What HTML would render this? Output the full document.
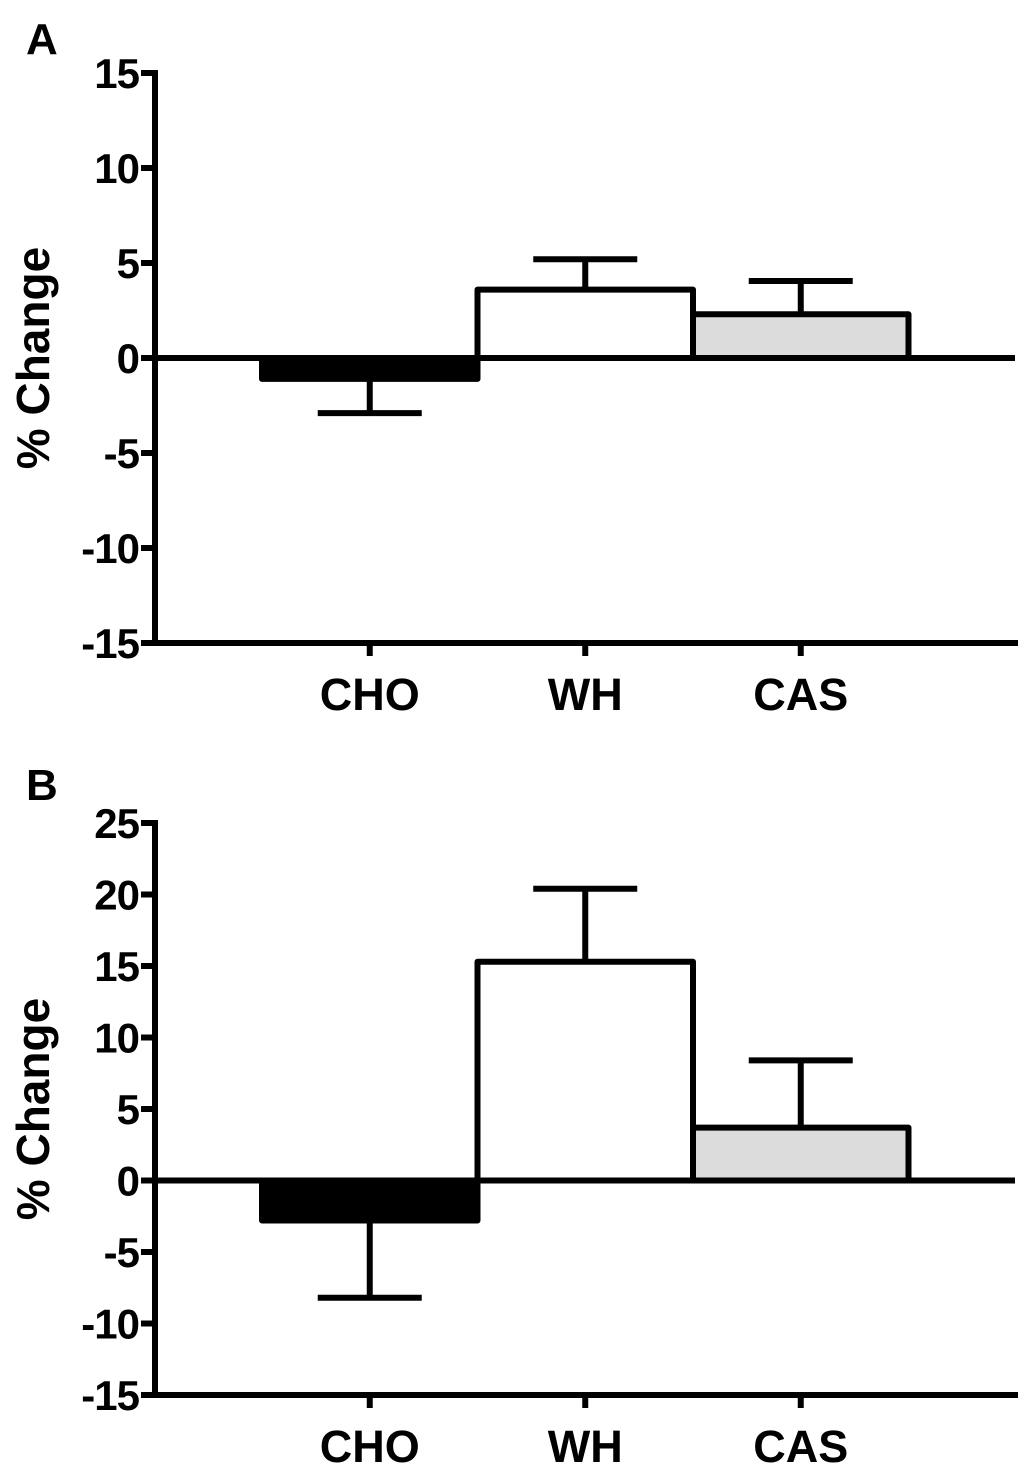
<!DOCTYPE html>
<html><head><meta charset="utf-8"><style>
html,body{margin:0;padding:0;background:#fff;}
svg text{font-family:"Liberation Sans",Arial,sans-serif;font-weight:bold;fill:#000;}
</style></head><body>
<svg id="fig" width="1024" height="1472" viewBox="0 0 1024 1472" xmlns="http://www.w3.org/2000/svg"></svg>
<script>
const categories = ["CHO","WH","CAS"];
const fills = ["#000000","#ffffff","#dcdcdc"];
const valuesA = [-1.1, 3.6, 2.3];
const errorsA = [-2.9, 5.2, 4.05];
const ticksA = [15,10,5,0,-5,-10,-15];
const valuesB = [-2.8, 15.3, 3.7];
const errorsB = [-8.2, 20.4, 8.4];
const ticksB = [25,20,15,10,5,0,-5,-10,-15];

const NS="http://www.w3.org/2000/svg";
const svg=document.getElementById('fig');
function mk(tag,attrs,parent){const e=document.createElementNS(NS,tag);for(const k in attrs)e.setAttribute(k,attrs[k]);(parent||svg).appendChild(e);return e;}

function panel(cfg){
  const g=mk('g',{});
  
  
  const ax=155, xEnd=1018;
  const y=v=>cfg.y0+(v-cfg.vmin)*(cfg.y1-cfg.y0)/(cfg.vmax-cfg.vmin);
  const bandL=262, bandW=215.5;
  const xc=i=>bandL+bandW*(i+0.5);
  const L=mk('text',{x:26,y:cfg.letterY,'font-size':44},g);L.textContent=cfg.letter;
  
  
  const t=mk('text',{x:0,y:0,'font-size':46,'text-anchor':'middle',transform:`translate(49,${(cfg.y0+cfg.y1)/2}) rotate(-90)`},g);t.textContent="% Change";
  
  
  cfg.values.forEach((v,i)=>{
    const x0=bandL+bandW*i, top=Math.min(y(v),y(0)), h=Math.abs(y(v)-y(0));
    const r=mk('rect',{x:x0,y:top,width:bandW,height:h,fill:fills[i],stroke:'#000','stroke-width':6,'stroke-linejoin':'round'},g);
    
    
    const e=mk('path',{d:`M${xc(i)} ${y(v)} V${y(cfg.errors[i])} M${xc(i)-52} ${y(cfg.errors[i])} H${xc(i)+52}`,stroke:'#000','stroke-width':6,fill:'none'},g);
    
    
  });
  const z=mk('line',{x1:ax,x2:1015,y1:y(0),y2:y(0),stroke:'#000','stroke-width':6},g);
  
  
  const ya=mk('line',{x1:ax,x2:ax,y1:y(cfg.vmax)-3,y2:y(cfg.vmin)+3,stroke:'#000','stroke-width':6},g);
  
  
  cfg.ticks.forEach(tv=>{
    const tk=mk('line',{x1:ax-14,x2:ax,y1:y(tv),y2:y(tv),stroke:'#000','stroke-width':6},g);
    
    
    const tl=mk('text',{x:ax-16,y:y(tv)+15,'font-size':42,'text-anchor':'end','letter-spacing':'-1'},g);tl.textContent=String(tv);
    
    
  });
  const xa=mk('line',{x1:ax,x2:xEnd,y1:y(cfg.vmin),y2:y(cfg.vmin),stroke:'#000','stroke-width':6},g);
  
  
  categories.forEach((c,i)=>{
    const tk=mk('line',{x1:xc(i),x2:xc(i),y1:y(cfg.vmin),y2:y(cfg.vmin)+13,stroke:'#000','stroke-width':6},g);
    
    
    const cl=mk('text',{x:xc(i),y:y(cfg.vmin)+67,'font-size':45,'text-anchor':'middle'},g);cl.textContent=c;
    
    
  });
}
panel({name:'panel-a',letter:'A',letterY:54,values:valuesA,errors:errorsA,ticks:ticksA,vmin:-15,vmax:15,y0:643,y1:73});
panel({name:'panel-b',letter:'B',letterY:800,values:valuesB,errors:errorsB,ticks:ticksB,vmin:-15,vmax:25,y0:1395,y1:823});
</script>
</body></html>
